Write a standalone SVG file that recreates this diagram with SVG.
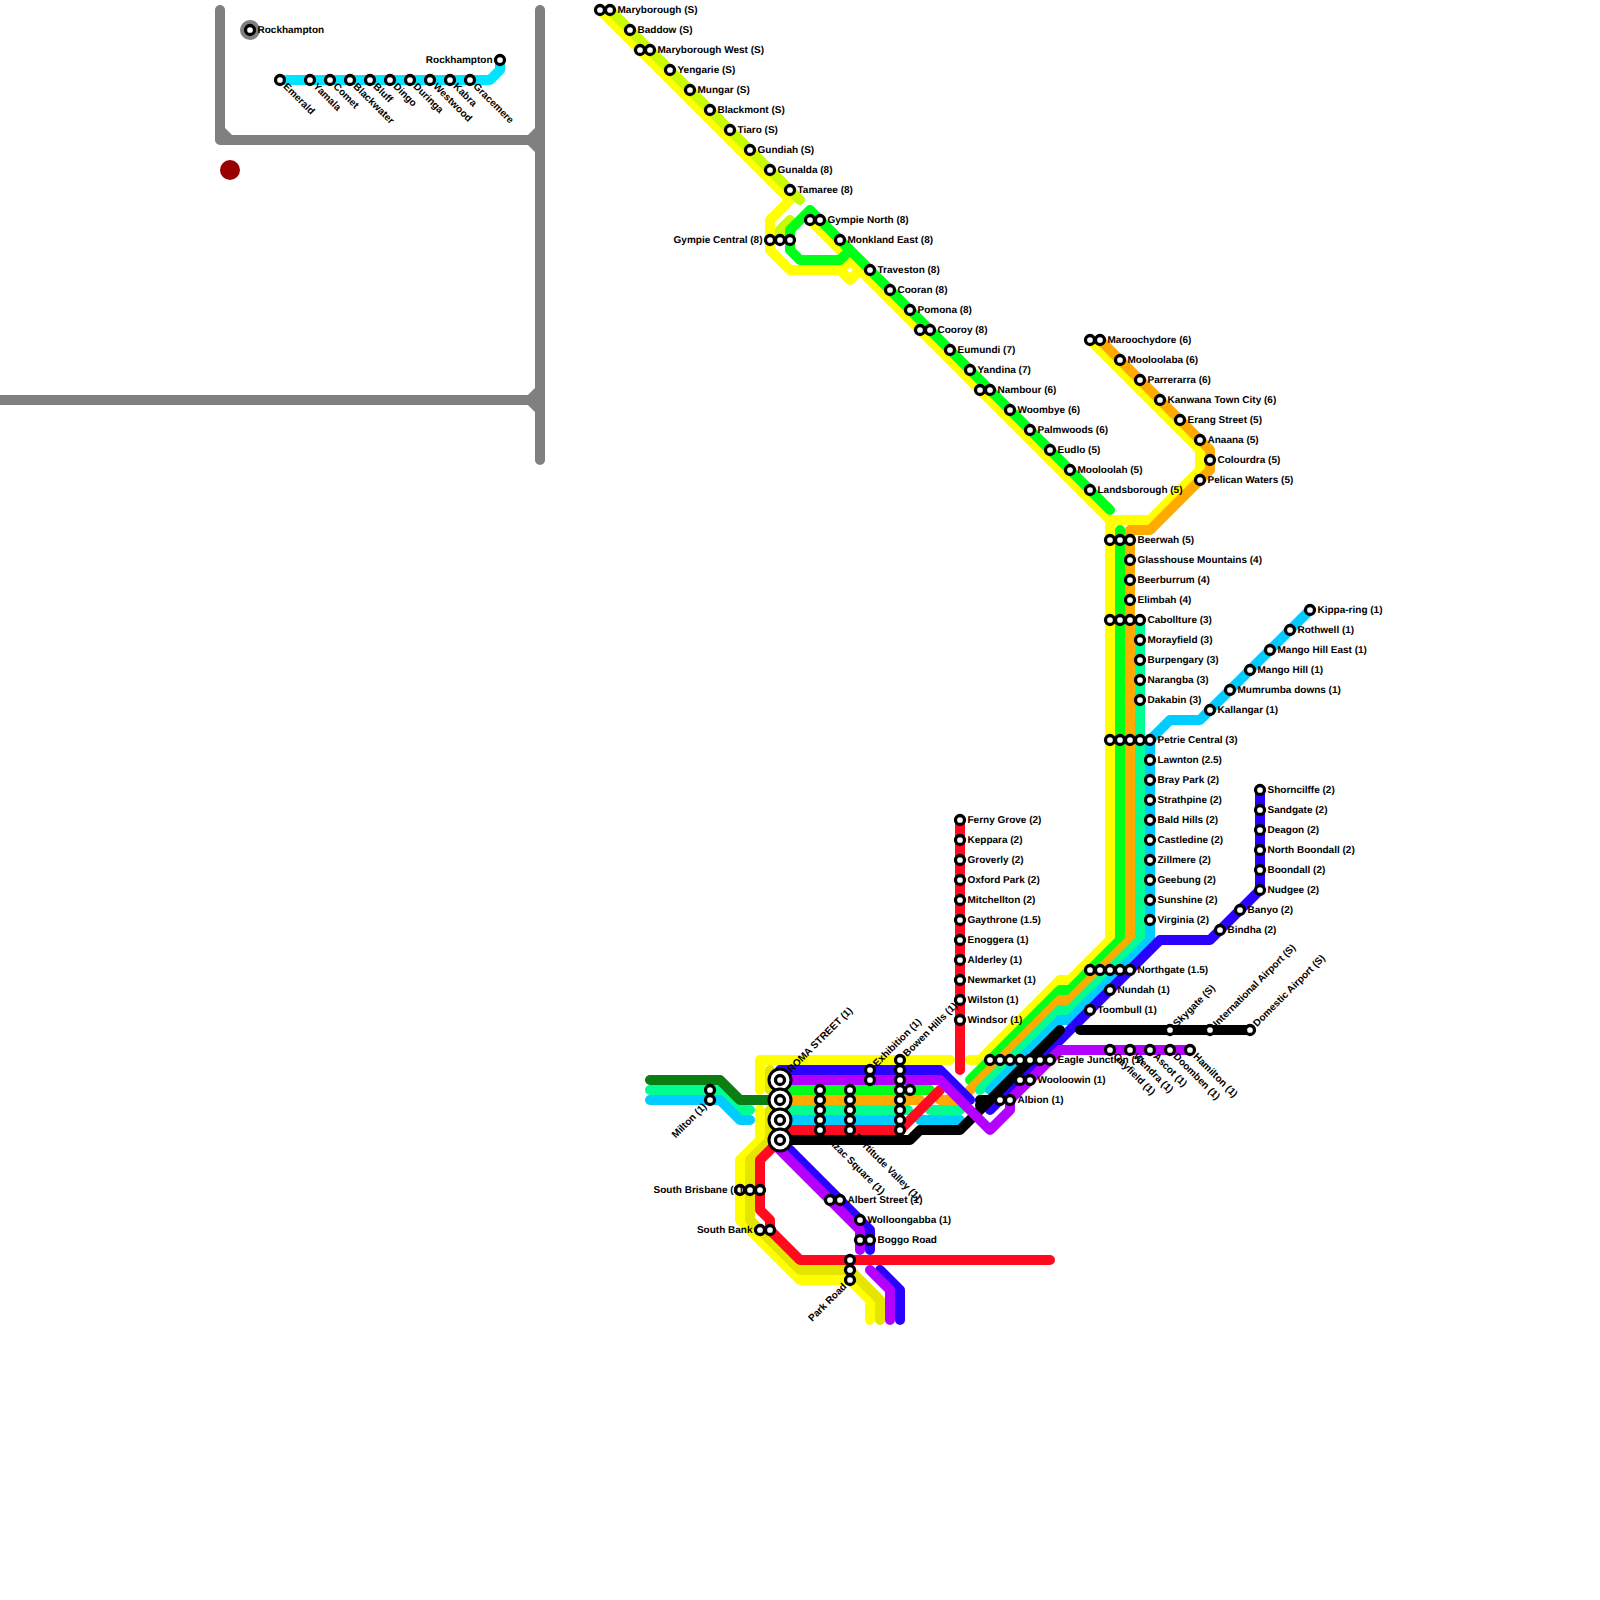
<svg xmlns="http://www.w3.org/2000/svg" width="1600" height="1600" viewBox="0 0 1600 1600">
<style>
.l{fill:none;stroke-width:10;stroke-linecap:round;stroke-linejoin:round}
.gray{stroke:#808080}.cy{stroke:#00e5ff}.ye{stroke:#ffff00}.li{stroke:#c8fa00}.ol{stroke:#e5e500}.gr{stroke:#00ff19}.or{stroke:#ffaa00}.aq{stroke:#00ff90}.sk{stroke:#00ccff}.dg{stroke:#0b7d12}.re{stroke:#ff0a1e}.bl{stroke:#2a00ff}.bk{stroke:#000}.pu{stroke:#b400ff}
.s{fill:#fff;stroke:#000;stroke-width:3.3}
.b{fill:#fff;stroke:#000;stroke-width:3}
text{font-family:"Liberation Sans",Arial,sans-serif;font-size:10px;font-weight:bold;fill:#000;text-rendering:geometricPrecision}
text:not([transform]){translate:.5px -.5px}
text.e:not([transform]){translate:-.5px -.5px}
.e{text-anchor:end}
</style>
<defs><circle id="c" class="s" r="4.5"/></defs>
<rect width="1600" height="1600" fill="#fff"/>
<g id="connectors">
<path class="l gray" d="M220,10V140H530L540,150M540,10V460M540,130L530,140M220,130L230,140M0,400H530L540,410M540,390L530,400"/>
<circle cx="230" cy="170" r="10" fill="#990000"/>
<circle cx="250" cy="30" r="10" fill="#808080"/>
<path class="l cy" d="M280,80H490L500,70V60"/>
<path class="l ye" d="M600,10L790,200L770,220V250L790,270H840L850,280L860,270M840,270L850,260M810,220L1110,520V940L1070,980H1060L980,1060H970M950,1060H760V1090M1090,340L1200,450V470L1150,520H1110M760,1110V1140L740,1160V1220L800,1280H850L870,1300V1320"/>
<path class="l li" d="M610,10L800,200M790,220L780,230V240"/>
<path class="l ol" d="M770,1070V1090M770,1110V1140L750,1160V1220L800,1270H850L880,1300V1320"/>
<path class="l gr" d="M1110,510L810,210L790,230V250L800,260H840L850,250M1120,530V940L1070,990H1060L970,1080M780,1090H930"/>
<path class="l or" d="M1100,340L1210,450V470L1150,530H1130V940L1070,1000H1060L960,1100H940M780,1100H920"/>
<path class="l aq" d="M1140,620V940L1070,1010H1060L980,1090M930,1110H960M780,1110H908M650,1090H720L740,1110H750"/>
<path class="l sk" d="M1310,610L1200,720H1170L1150,740V940L1070,1020H1060L990,1090M920,1120H960M780,1120H900M650,1100H720L740,1120H750"/>
<path class="l dg" d="M650,1080H720L740,1100H780"/>
<path class="l re" d="M960,820V1070M780,1130H900L940,1090M780,1140L760,1160V1210L770,1220V1230L800,1260H1050"/>
<path class="l bl" d="M780,1070H940L970,1100M1260,790V890L1210,940H1160L990,1110M780,1140L870,1230V1250M880,1270L900,1290V1320"/>
<path class="l bk" d="M780,1140H910L920,1130H960L1060,1030M980,1100H990M980,1105H985M1080,1030H1250"/>
<path class="l pu" d="M780,1080H940L990,1130L1010,1110V1100L1060,1050H1190M775,1145L860,1230V1250M870,1270L890,1290V1320"/>
</g>
<g id="n-rockhampton-top"><use href="#c" x="250" y="30"/><text x="257" y="33">Rockhampton</text></g>
<g id="n-emerald"><use href="#c" x="280" y="80"/><text x="287" y="83" transform="rotate(45 280 80)">Emerald</text></g>
<g id="n-yamala"><use href="#c" x="310" y="80"/><text x="317" y="83" transform="rotate(45 310 80)">Yamala</text></g>
<g id="n-comet"><use href="#c" x="330" y="80"/><text x="337" y="83" transform="rotate(45 330 80)">Comet</text></g>
<g id="n-blackwater"><use href="#c" x="350" y="80"/><text x="357" y="83" transform="rotate(45 350 80)">Blackwater</text></g>
<g id="n-bluff"><use href="#c" x="370" y="80"/><text x="377" y="83" transform="rotate(45 370 80)">Bluff</text></g>
<g id="n-dingo"><use href="#c" x="390" y="80"/><text x="397" y="83" transform="rotate(45 390 80)">Dingo</text></g>
<g id="n-duringa"><use href="#c" x="410" y="80"/><text x="417" y="83" transform="rotate(45 410 80)">Duringa</text></g>
<g id="n-westwood"><use href="#c" x="430" y="80"/><text x="437" y="83" transform="rotate(45 430 80)">Westwood</text></g>
<g id="n-kabra"><use href="#c" x="450" y="80"/><text x="457" y="83" transform="rotate(45 450 80)">Kabra</text></g>
<g id="n-gracemere"><use href="#c" x="470" y="80"/><text x="477" y="83" transform="rotate(45 470 80)">Gracemere</text></g>
<g id="n-rockhampton"><use href="#c" x="500" y="60"/><text class="e" x="493" y="63">Rockhampton</text></g>

<g id="n-maryborough"><use href="#c" x="600" y="10"/><use href="#c" x="610" y="10"/><text x="617" y="13">Maryborough (S)</text></g>
<g id="n-baddow"><use href="#c" x="630" y="30"/><text x="637" y="33">Baddow (S)</text></g>
<g id="n-maryborough-west"><use href="#c" x="640" y="50"/><use href="#c" x="650" y="50"/><text x="657" y="53">Maryborough West (S)</text></g>
<g id="n-yengarie"><use href="#c" x="670" y="70"/><text x="677" y="73">Yengarie (S)</text></g>
<g id="n-mungar"><use href="#c" x="690" y="90"/><text x="697" y="93">Mungar (S)</text></g>
<g id="n-blackmont"><use href="#c" x="710" y="110"/><text x="717" y="113">Blackmont (S)</text></g>
<g id="n-tiaro"><use href="#c" x="730" y="130"/><text x="737" y="133">Tiaro (S)</text></g>
<g id="n-gundiah"><use href="#c" x="750" y="150"/><text x="757" y="153">Gundiah (S)</text></g>
<g id="n-gunalda"><use href="#c" x="770" y="170"/><text x="777" y="173">Gunalda (8)</text></g>
<g id="n-tamaree"><use href="#c" x="790" y="190"/><text x="797" y="193">Tamaree (8)</text></g>
<g id="n-gympie-north"><use href="#c" x="810" y="220"/><use href="#c" x="820" y="220"/><text x="827" y="223">Gympie North (8)</text></g>
<g id="n-gympie-central"><use href="#c" x="770" y="240"/><use href="#c" x="780" y="240"/><use href="#c" x="790" y="240"/><text class="e" x="763" y="243">Gympie Central (8)</text></g>
<g id="n-monkland-east"><use href="#c" x="840" y="240"/><text x="847" y="243">Monkland East (8)</text></g>
<g id="n-traveston"><use href="#c" x="870" y="270"/><text x="877" y="273">Traveston (8)</text></g>
<g id="n-cooran"><use href="#c" x="890" y="290"/><text x="897" y="293">Cooran (8)</text></g>
<g id="n-pomona"><use href="#c" x="910" y="310"/><text x="917" y="313">Pomona (8)</text></g>
<g id="n-cooroy"><use href="#c" x="920" y="330"/><use href="#c" x="930" y="330"/><text x="937" y="333">Cooroy (8)</text></g>
<g id="n-eumundi"><use href="#c" x="950" y="350"/><text x="957" y="353">Eumundi (7)</text></g>
<g id="n-yandina"><use href="#c" x="970" y="370"/><text x="977" y="373">Yandina (7)</text></g>
<g id="n-nambour"><use href="#c" x="980" y="390"/><use href="#c" x="990" y="390"/><text x="997" y="393">Nambour (6)</text></g>
<g id="n-woombye"><use href="#c" x="1010" y="410"/><text x="1017" y="413">Woombye (6)</text></g>
<g id="n-palmwoods"><use href="#c" x="1030" y="430"/><text x="1037" y="433">Palmwoods (6)</text></g>
<g id="n-eudlo"><use href="#c" x="1050" y="450"/><text x="1057" y="453">Eudlo (5)</text></g>
<g id="n-mooloolah"><use href="#c" x="1070" y="470"/><text x="1077" y="473">Mooloolah (5)</text></g>
<g id="n-landsborough"><use href="#c" x="1090" y="490"/><text x="1097" y="493">Landsborough (5)</text></g>

<g id="n-maroochydore"><use href="#c" x="1090" y="340"/><use href="#c" x="1100" y="340"/><text x="1107" y="343">Maroochydore (6)</text></g>
<g id="n-mooloolaba"><use href="#c" x="1120" y="360"/><text x="1127" y="363">Mooloolaba (6)</text></g>
<g id="n-parrerarra"><use href="#c" x="1140" y="380"/><text x="1147" y="383">Parrerarra (6)</text></g>
<g id="n-kanwana"><use href="#c" x="1160" y="400"/><text x="1167" y="403">Kanwana Town City (6)</text></g>
<g id="n-erang"><use href="#c" x="1180" y="420"/><text x="1187" y="423">Erang Street (5)</text></g>
<g id="n-anaana"><use href="#c" x="1200" y="440"/><text x="1207" y="443">Anaana (5)</text></g>
<g id="n-coolourdra"><use href="#c" x="1210" y="460"/><text x="1217" y="463">Colourdra (5)</text></g>
<g id="n-pelican"><use href="#c" x="1200" y="480"/><text x="1207" y="483">Pelican Waters (5)</text></g>

<g id="n-beerwah"><use href="#c" x="1110" y="540"/><use href="#c" x="1120" y="540"/><use href="#c" x="1130" y="540"/><text x="1137" y="543">Beerwah (5)</text></g>
<g id="n-glasshouse"><use href="#c" x="1130" y="560"/><text x="1137" y="563">Glasshouse Mountains (4)</text></g>
<g id="n-beerburrum"><use href="#c" x="1130" y="580"/><text x="1137" y="583">Beerburrum (4)</text></g>
<g id="n-elimbah"><use href="#c" x="1130" y="600"/><text x="1137" y="603">Elimbah (4)</text></g>
<g id="n-caboolture"><use href="#c" x="1110" y="620"/><use href="#c" x="1120" y="620"/><use href="#c" x="1130" y="620"/><use href="#c" x="1140" y="620"/><text x="1147" y="623">Cabollture (3)</text></g>
<g id="n-morayfield"><use href="#c" x="1140" y="640"/><text x="1147" y="643">Morayfield (3)</text></g>
<g id="n-burpengary"><use href="#c" x="1140" y="660"/><text x="1147" y="663">Burpengary (3)</text></g>
<g id="n-narangba"><use href="#c" x="1140" y="680"/><text x="1147" y="683">Narangba (3)</text></g>
<g id="n-dakabin"><use href="#c" x="1140" y="700"/><text x="1147" y="703">Dakabin (3)</text></g>
<g id="n-petrie"><use href="#c" x="1110" y="740"/><use href="#c" x="1120" y="740"/><use href="#c" x="1130" y="740"/><use href="#c" x="1140" y="740"/><use href="#c" x="1150" y="740"/><text x="1157" y="743">Petrie Central (3)</text></g>
<g id="n-lawnton"><use href="#c" x="1150" y="760"/><text x="1157" y="763">Lawnton (2.5)</text></g>
<g id="n-bray-park"><use href="#c" x="1150" y="780"/><text x="1157" y="783">Bray Park (2)</text></g>
<g id="n-strathpine"><use href="#c" x="1150" y="800"/><text x="1157" y="803">Strathpine (2)</text></g>
<g id="n-bald-hills"><use href="#c" x="1150" y="820"/><text x="1157" y="823">Bald Hills (2)</text></g>
<g id="n-castledine"><use href="#c" x="1150" y="840"/><text x="1157" y="843">Castledine (2)</text></g>
<g id="n-zillmere"><use href="#c" x="1150" y="860"/><text x="1157" y="863">Zillmere (2)</text></g>
<g id="n-geebung"><use href="#c" x="1150" y="880"/><text x="1157" y="883">Geebung (2)</text></g>
<g id="n-sunshine"><use href="#c" x="1150" y="900"/><text x="1157" y="903">Sunshine (2)</text></g>
<g id="n-virginia"><use href="#c" x="1150" y="920"/><text x="1157" y="923">Virginia (2)</text></g>

<g id="n-kippa-ring"><use href="#c" x="1310" y="610"/><text x="1317" y="613">Kippa-ring (1)</text></g>
<g id="n-rothwell"><use href="#c" x="1290" y="630"/><text x="1297" y="633">Rothwell (1)</text></g>
<g id="n-mango-hill-east"><use href="#c" x="1270" y="650"/><text x="1277" y="653">Mango Hill East (1)</text></g>
<g id="n-mango-hill"><use href="#c" x="1250" y="670"/><text x="1257" y="673">Mango Hill (1)</text></g>
<g id="n-mumrumba"><use href="#c" x="1230" y="690"/><text x="1237" y="693">Mumrumba downs (1)</text></g>
<g id="n-kallangar"><use href="#c" x="1210" y="710"/><text x="1217" y="713">Kallangar (1)</text></g>

<g id="n-shorncliffe"><use href="#c" x="1260" y="790"/><text x="1267" y="793">Shorncilffe (2)</text></g>
<g id="n-sandgate"><use href="#c" x="1260" y="810"/><text x="1267" y="813">Sandgate (2)</text></g>
<g id="n-deagon"><use href="#c" x="1260" y="830"/><text x="1267" y="833">Deagon (2)</text></g>
<g id="n-north-boondall"><use href="#c" x="1260" y="850"/><text x="1267" y="853">North Boondall (2)</text></g>
<g id="n-boondall"><use href="#c" x="1260" y="870"/><text x="1267" y="873">Boondall (2)</text></g>
<g id="n-nudgee"><use href="#c" x="1260" y="890"/><text x="1267" y="893">Nudgee (2)</text></g>
<g id="n-banyo"><use href="#c" x="1240" y="910"/><text x="1247" y="913">Banyo (2)</text></g>
<g id="n-bindha"><use href="#c" x="1220" y="930"/><text x="1227" y="933">Bindha (2)</text></g>

<g id="n-northgate"><use href="#c" x="1090" y="970"/><use href="#c" x="1100" y="970"/><use href="#c" x="1110" y="970"/><use href="#c" x="1120" y="970"/><use href="#c" x="1130" y="970"/><text x="1137" y="973">Northgate (1.5)</text></g>
<g id="n-nundah"><use href="#c" x="1110" y="990"/><text x="1117" y="993">Nundah (1)</text></g>
<g id="n-toombull"><use href="#c" x="1090" y="1010"/><text x="1097" y="1013">Toombull (1)</text></g>
<g id="n-skygate"><use href="#c" x="1170" y="1030"/><text x="1177" y="1033" transform="rotate(-45 1170 1030)">Skygate (S)</text></g>
<g id="n-international"><use href="#c" x="1210" y="1030"/><text x="1217" y="1033" transform="rotate(-45 1210 1030)">International Airport (S)</text></g>
<g id="n-domestic"><use href="#c" x="1250" y="1030"/><text x="1257" y="1033" transform="rotate(-45 1250 1030)">Domestic Airport (S)</text></g>
<g id="n-eagle-junction"><use href="#c" x="990" y="1060"/><use href="#c" x="1000" y="1060"/><use href="#c" x="1010" y="1060"/><use href="#c" x="1020" y="1060"/><use href="#c" x="1030" y="1060"/><use href="#c" x="1040" y="1060"/><use href="#c" x="1050" y="1060"/><text x="1057" y="1063">Eagle Junction (1)</text></g>
<g id="n-wooloowin"><use href="#c" x="1020" y="1080"/><use href="#c" x="1030" y="1080"/><text x="1037" y="1083">Wooloowin (1)</text></g>
<g id="n-albion"><use href="#c" x="1000" y="1100"/><use href="#c" x="1010" y="1100"/><text x="1017" y="1103">Albion (1)</text></g>
<g id="n-gayfield"><use href="#c" x="1110" y="1050"/><text x="1117" y="1053" transform="rotate(45 1110 1050)">Gayfield (1)</text></g>
<g id="n-wendra"><use href="#c" x="1130" y="1050"/><text x="1137" y="1053" transform="rotate(45 1130 1050)">Wendra (1)</text></g>
<g id="n-ascot"><use href="#c" x="1150" y="1050"/><text x="1157" y="1053" transform="rotate(45 1150 1050)">Ascot (1)</text></g>
<g id="n-doomben"><use href="#c" x="1170" y="1050"/><text x="1177" y="1053" transform="rotate(45 1170 1050)">Doomben (1)</text></g>
<g id="n-hamilton"><use href="#c" x="1190" y="1050"/><text x="1197" y="1053" transform="rotate(45 1190 1050)">Hamilton (1)</text></g>

<g id="n-ferny-grove"><use href="#c" x="960" y="820"/><text x="967" y="823">Ferny Grove (2)</text></g>
<g id="n-keppara"><use href="#c" x="960" y="840"/><text x="967" y="843">Keppara (2)</text></g>
<g id="n-groverly"><use href="#c" x="960" y="860"/><text x="967" y="863">Groverly (2)</text></g>
<g id="n-oxford-park"><use href="#c" x="960" y="880"/><text x="967" y="883">Oxford Park (2)</text></g>
<g id="n-mitchellton"><use href="#c" x="960" y="900"/><text x="967" y="903">Mitchellton (2)</text></g>
<g id="n-gaythrone"><use href="#c" x="960" y="920"/><text x="967" y="923">Gaythrone (1.5)</text></g>
<g id="n-enoggera"><use href="#c" x="960" y="940"/><text x="967" y="943">Enoggera (1)</text></g>
<g id="n-alderley"><use href="#c" x="960" y="960"/><text x="967" y="963">Alderley (1)</text></g>
<g id="n-newmarket"><use href="#c" x="960" y="980"/><text x="967" y="983">Newmarket (1)</text></g>
<g id="n-wilston"><use href="#c" x="960" y="1000"/><text x="967" y="1003">Wilston (1)</text></g>
<g id="n-windsor"><use href="#c" x="960" y="1020"/><text x="967" y="1023">Windsor (1)</text></g>

<g id="n-roma-street">
<circle class="b" cx="780" cy="1080" r="11"/><use href="#c" x="780" y="1080"/>
<circle class="b" cx="780" cy="1100" r="11"/><use href="#c" x="780" y="1100"/>
<circle class="b" cx="780" cy="1120" r="11"/><use href="#c" x="780" y="1120"/>
<circle class="b" cx="780" cy="1140" r="11"/><use href="#c" x="780" y="1140"/>
<text x="793" y="1083" transform="rotate(-45 780 1080)">ROMA STREET (1)</text></g>
<g id="n-anzac-square"><use href="#c" x="820" y="1090"/><use href="#c" x="820" y="1100"/><use href="#c" x="820" y="1110"/><use href="#c" x="820" y="1120"/><use href="#c" x="820" y="1130"/><text x="828" y="1133" transform="rotate(45 820 1130)">Anzac Square (1)</text></g>
<g id="n-fortitude-valley"><use href="#c" x="850" y="1090"/><use href="#c" x="850" y="1100"/><use href="#c" x="850" y="1110"/><use href="#c" x="850" y="1120"/><use href="#c" x="850" y="1130"/><text x="858" y="1133" transform="rotate(45 850 1130)">Fortitude Valley (1)</text></g>
<g id="n-exhibition"><use href="#c" x="870" y="1070"/><use href="#c" x="870" y="1080"/><text x="877" y="1073" transform="rotate(-45 870 1070)">Exhibition (1)</text></g>
<g id="n-bowen-hills"><use href="#c" x="900" y="1060"/><use href="#c" x="900" y="1070"/><use href="#c" x="900" y="1080"/><use href="#c" x="900" y="1090"/><use href="#c" x="900" y="1100"/><use href="#c" x="900" y="1110"/><use href="#c" x="900" y="1120"/><use href="#c" x="900" y="1130"/><use href="#c" x="910" y="1090"/><text x="907" y="1063" transform="rotate(-45 900 1060)">Bowen Hills (1)</text></g>
<g id="n-milton"><use href="#c" x="710" y="1090"/><use href="#c" x="710" y="1100"/><text class="e" x="703" y="1103" transform="rotate(-45 710 1100)">Milton (1)</text></g>
<g id="n-south-brisbane"><use href="#c" x="740" y="1190"/><use href="#c" x="750" y="1190"/><use href="#c" x="760" y="1190"/><text class="e" x="743" y="1193">South Brisbane (1)</text></g>
<g id="n-south-bank"><use href="#c" x="760" y="1230"/><use href="#c" x="770" y="1230"/><text class="e" x="753" y="1233">South Bank</text></g>
<g id="n-albert-street"><use href="#c" x="830" y="1200"/><use href="#c" x="840" y="1200"/><text x="847" y="1203">Albert Street (1)</text></g>
<g id="n-wolloongabba"><use href="#c" x="860" y="1220"/><text x="867" y="1223">Wolloongabba (1)</text></g>
<g id="n-boggo-road"><use href="#c" x="860" y="1240"/><use href="#c" x="870" y="1240"/><text x="877" y="1243">Boggo Road</text></g>
<g id="n-park-road"><use href="#c" x="850" y="1260"/><use href="#c" x="850" y="1270"/><use href="#c" x="850" y="1280"/><text class="e" x="843" y="1283" transform="rotate(-45 850 1280)">Park Road</text></g>
</svg>
